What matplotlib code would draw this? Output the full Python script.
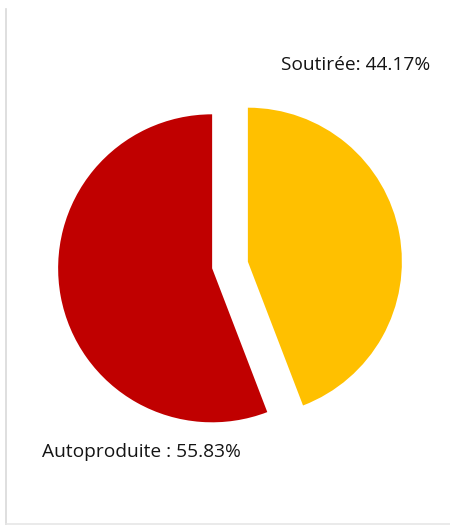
import matplotlib.pyplot as plt
from matplotlib.lines import Line2D

labels = ['Soutirée', 'Autoproduite ']
shares = [44.17, 55.83]
colors = ['#FFC000', '#C00000']

fig = plt.figure(figsize=(4.5, 5.25), dpi=100)
ax = fig.add_axes([0, 0, 1, 1])

ax.pie(shares, colors=colors, startangle=90, counterclock=False,
       explode=[0.118, 0.118], radius=1.0,
       wedgeprops={'linewidth': 0})

# pie centre at pixel (230, 265), radius 154 px
scale = 154.0
cx, cy = 230.0, 265.0
ax.set_xlim(-cx / scale, (450 - cx) / scale)
ax.set_ylim(-(525 - cy) / scale, cy / scale)
ax.set_aspect('auto')
ax.axis('off')

# light grey frame pieces (left and bottom)
fig.add_artist(Line2D([6 / 450, 6 / 450], [0, 1 - 9 / 525],
                      transform=fig.transFigure, color='#d9d9d9', lw=1.2))
fig.add_artist(Line2D([6 / 450, 1], [1.5 / 525, 1.5 / 525],
                      transform=fig.transFigure, color='#e6e6e6', lw=1.2))

txt_font = dict(family=['Open Sans', 'DejaVu Sans'], fontsize=13.8, color='#141414')
fig.text(430 / 450, 1 - 65 / 525, f'{labels[0]}: {shares[0]:.2f}%',
         ha='right', va='center', **txt_font)
fig.text(42 / 450, 1 - 452 / 525, f'{labels[1]}: {shares[1]:.2f}%',
         ha='left', va='center', **txt_font)

fig.savefig('out.png', dpi=100)
